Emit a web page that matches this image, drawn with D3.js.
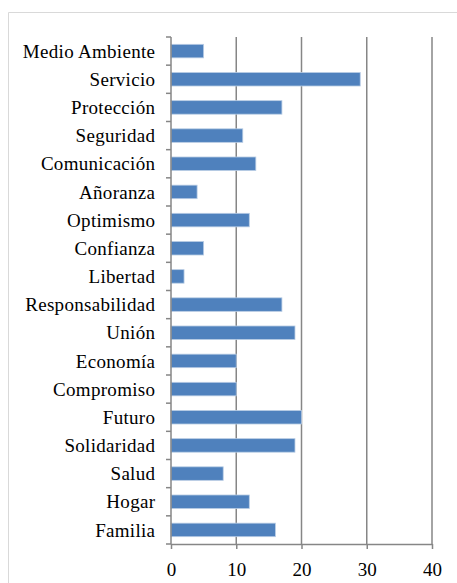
<!DOCTYPE html>
<html><head><meta charset="utf-8">
<script src="https://cdn.jsdelivr.net/npm/d3@7"></script>
<style>html,body{margin:0;padding:0;background:#fff;}svg{display:block;}</style>
</head><body>
<svg id="c" width="457" height="583"></svg>
<script>
const categories = ["Medio Ambiente","Servicio","Protección","Seguridad","Comunicación","Añoranza","Optimismo","Confianza","Libertad","Responsabilidad","Unión","Economía","Compromiso","Futuro","Solidaridad","Salud","Hogar","Familia"];
const values = [5,29,17,11,13,4,12,5,2,17,19,10,10,20,19,8,12,16];
const xTicks = [0,10,20,30,40];

const FONT = '"Liberation Serif", "Times New Roman", serif';
const svg = d3.select("#c");
const m = {left:171, right:432, top:37, bottom:544};
const x = d3.scaleLinear().domain([0,40]).range([m.left, m.right]);
const y = d3.scaleBand().domain(categories).range([m.top, m.bottom]).paddingInner(0.52).paddingOuter(0.26);

// outer chart border
svg.append("path").attr("d", `M8.5,583 V12.5 H457`).attr("fill","none").attr("stroke","#d9d9d9").attr("stroke-width",1);

// gridlines
svg.append("g").selectAll("line").data(xTicks.slice(1)).join("line")
  .attr("x1", d=>x(d)).attr("x2", d=>x(d)).attr("y1", m.top).attr("y2", m.bottom)
  .attr("stroke","#868686").attr("stroke-width",1.5);

// bars
svg.append("g").selectAll("rect").data(categories).join("rect")
  .attr("x", x(0)).attr("y", d=>y(d))
  .attr("width", (d,i)=>x(values[i])-x(0)).attr("height", y.bandwidth())
  .attr("fill","#4f81bd").attr("stroke","#b9cde5").attr("stroke-width",0.8);

// y axis with ticks at category boundaries
const bounds = d3.scaleLinear().domain([0, categories.length]).range([m.top, m.bottom]);
const yAxisG = svg.append("g");
yAxisG.append("line").attr("x1",m.left).attr("x2",m.left).attr("y1",m.top).attr("y2",m.bottom).attr("stroke","#868686").attr("stroke-width",1.5);
yAxisG.selectAll("line.t").data(d3.range(categories.length+1)).join("line").attr("class","t")
  .attr("x1",m.left-5).attr("x2",m.left).attr("y1",d=>bounds(d)).attr("y2",d=>bounds(d))
  .attr("stroke","#868686").attr("stroke-width",1.5);
yAxisG.selectAll("text").data(categories).join("text")
  .attr("x", m.left-15.7).attr("y", d=>y(d)+y.bandwidth()/2)
  .attr("dy","0.35em").attr("text-anchor","end")
  .style("font-family", FONT).style("font-size","19px").style("letter-spacing","0.3px").attr("fill","#000")
  .text(d=>d);

// x axis
const xAxis = d3.axisBottom(x).tickValues(xTicks).tickSize(5).tickPadding(14).tickSizeOuter(0);
const xg = svg.append("g").attr("transform",`translate(0,${m.bottom})`).call(xAxis);
xg.select(".domain").attr("stroke","#868686").attr("stroke-width",1.5);
xg.selectAll(".tick line").attr("stroke","#868686").attr("stroke-width",1.5);
xg.selectAll(".tick text").style("font-family", FONT).style("font-size","19px").attr("fill","#000");
</script>
</body></html>
